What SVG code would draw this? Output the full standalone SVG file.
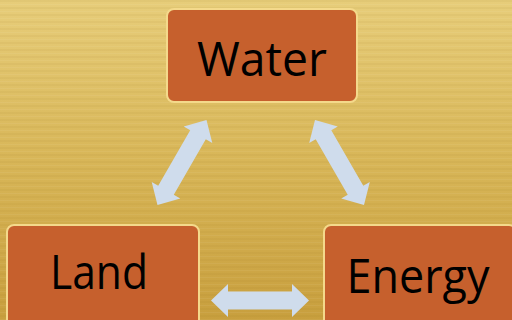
<svg xmlns="http://www.w3.org/2000/svg" xmlns:xlink="http://www.w3.org/1999/xlink" width="512" height="320" viewBox="0 0 512 320">
  <style>
    .box { fill: #c6602d; stroke: #f4d98b; stroke-width: 2; }
    .label { font-family: "Open Sans", "Liberation Sans", sans-serif; font-size: 47px; fill: #000000; text-anchor: middle; }
    .arrow { fill: #cfdcec; }
  </style>
  <defs>
    <linearGradient id="bg" x1="0" y1="0" x2="0" y2="1">
      <stop offset="0" stop-color="#e7cd7a"/>
      <stop offset="0.5" stop-color="#d8b658"/>
      <stop offset="1" stop-color="#c89f3e"/>
    </linearGradient>
    <pattern id="stripes" width="8" height="7" patternUnits="userSpaceOnUse">
      <rect x="0" y="0" width="8" height="2" fill="#8a6a10" opacity="0.06"/>
      <rect x="0" y="4" width="8" height="1" fill="#ffffff" opacity="0.05"/>
    </pattern>
    <path id="arrowShape" d="M -49 0 L -32 -16.5 L -32 -9 L 32 -9 L 32 -16.5 L 49 0 L 32 16.5 L 32 9 L -32 9 L -32 16.5 Z"/>
  </defs>
  <rect x="0" y="0" width="512" height="320" fill="url(#bg)"/>
  <rect x="0" y="0" width="512" height="320" fill="url(#stripes)"/>

  <g id="connectors" class="arrow">
    <use xlink:href="#arrowShape" href="#arrowShape" transform="translate(182 162.5) rotate(-60)"/>
    <use xlink:href="#arrowShape" href="#arrowShape" transform="translate(339.5 162.5) rotate(60)"/>
    <use xlink:href="#arrowShape" href="#arrowShape" transform="translate(260 300.5)"/>
  </g>

  <g id="water">
    <rect class="box" x="167" y="9" width="190" height="93" rx="7"/>
    <text class="label" x="262" y="76" textLength="130" lengthAdjust="spacingAndGlyphs">Water</text>
  </g>
  <g id="land">
    <rect class="box" x="7" y="225" width="192" height="110" rx="7"/>
    <text class="label" x="99" y="289" textLength="98" lengthAdjust="spacingAndGlyphs">Land</text>
  </g>
  <g id="energy">
    <rect class="box" x="324" y="225" width="192" height="110" rx="7"/>
    <text class="label" x="418" y="293" textLength="143" lengthAdjust="spacingAndGlyphs">Energy</text>
  </g>
</svg>
